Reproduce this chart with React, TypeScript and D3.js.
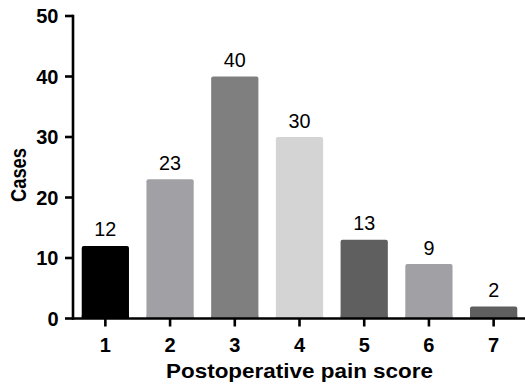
import React from "react";
import * as d3 from "d3";

const categories = ["1", "2", "3", "4", "5", "6", "7"];
const values = [12, 23, 40, 30, 13, 9, 2];
const barColors = ["#000000", "#a1a1a5", "#7f7f7f", "#d4d4d4", "#5f5f5f", "#a1a1a5", "#5f5f5f"];
const yTicks = [0, 10, 20, 30, 40, 50];
const xTitle = "Postoperative pain score";
const yTitle = "Cases";

export default function App() {
  const W = 525, H = 385;
  const x0 = 73, x1 = 526;
  const y = d3.scaleLinear().domain([0, 50]).range([318.5, 16]);
  const x = d3.scaleBand<string>().domain(categories).range([x0, x1]).paddingInner(0.27).paddingOuter(0.135);
  const font = "'Liberation Sans', Arial, Helvetica, sans-serif";
  return (
    <svg width={W} height={H} style={{ position: "absolute", left: 0, top: 0, background: "#fff" }} fontFamily={font}>
      {categories.map((c, i) => (
        <g key={c}>
          <rect x={x(c)!} y={y(values[i])} width={x.bandwidth()} height={y(0) - y(values[i])} fill={barColors[i]} rx={2} ry={2} />
          <rect x={x(c)!} y={y(0) - 3} width={x.bandwidth()} height={3} fill={barColors[i]} />
          <text x={x(c)! + x.bandwidth() / 2} y={y(values[i]) - 9.5} textAnchor="middle" fontSize={20} fill="#000" textLength={values[i] >= 10 ? 22 : 11} lengthAdjust="spacingAndGlyphs">{values[i]}</text>
        </g>
      ))}
      {/* y axis */}
      <line x1={x0} x2={x0} y1={y(50) - 1.2} y2={y(0) + 1.2} stroke="#000" strokeWidth={2.6} />
      {yTicks.map(t => (
        <g key={t}>
          <line x1={65} x2={x0} y1={y(t)} y2={y(t)} stroke="#000" strokeWidth={2.6} />
          <text x={58.5} y={y(t)} dy="0.36em" textAnchor="end" fontSize={20} fontWeight="bold" fill="#000">{t}</text>
        </g>
      ))}
      {/* x axis */}
      <line x1={x0} x2={W} y1={y(0)} y2={y(0)} stroke="#000" strokeWidth={2.6} />
      {categories.map(c => (
        <g key={"t" + c}>
          <line x1={x(c)! + x.bandwidth() / 2} x2={x(c)! + x.bandwidth() / 2} y1={y(0)} y2={y(0) + 8} stroke="#000" strokeWidth={2.6} />
          <text x={x(c)! + x.bandwidth() / 2} y={352} textAnchor="middle" fontSize={20} fontWeight="bold" fill="#000">{c}</text>
        </g>
      ))}
      <text x={299.5} y={378} textAnchor="middle" fontSize={20.5} fontWeight="bold" fill="#000" textLength={267} lengthAdjust="spacingAndGlyphs">{xTitle}</text>
      <text transform={`translate(26,175) rotate(-90)`} textAnchor="middle" fontSize={22.5} fontWeight="bold" fill="#000" textLength={54} lengthAdjust="spacingAndGlyphs">{yTitle}</text>
    </svg>
  );
}
